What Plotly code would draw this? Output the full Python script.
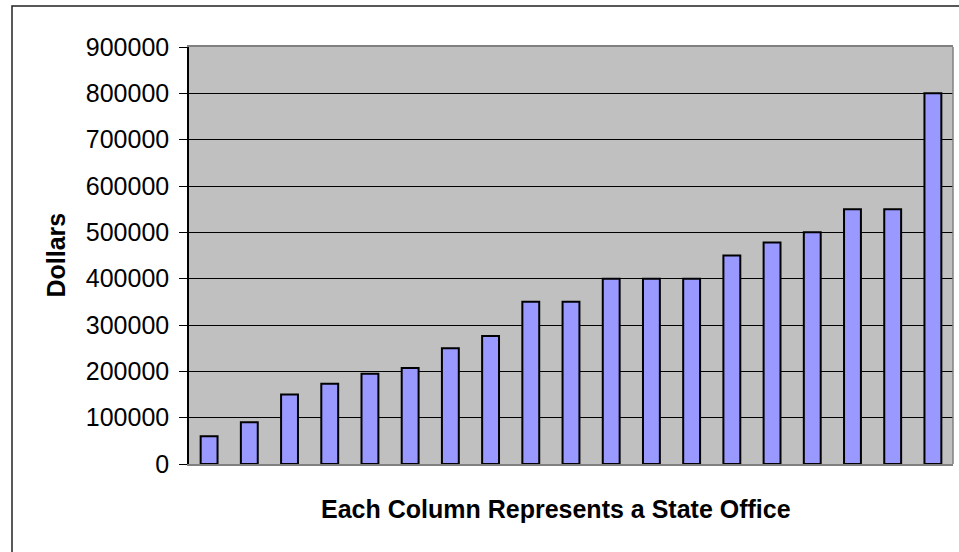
import plotly.graph_objects as go

# Funding per state office, sorted ascending
offices = [f"Office {i}" for i in range(1, 20)]
dollars = [60000, 90000, 150000, 173000, 195000, 207000, 250000, 276000,
           350000, 350000, 400000, 400000, 400000, 450000, 478000, 500000,
           550000, 550000, 800000]
y_ticks = list(range(0, 900001, 100000))

FONT = "Liberation Sans, Arial, sans-serif"

fig = go.Figure(
    go.Bar(
        x=offices,
        y=dollars,
        marker=dict(color="#9999FF", line=dict(color="#000000", width=2)),
        hoverinfo="y",
    )
)

W, H = 959, 552
L, R, T, B = 189, 6, 47, 88
pw, ph = W - L - R, H - T - B


def px_x(x):
    return (x - L) / pw


def px_y(y):
    return (H - B - y) / ph


fig.update_layout(
    width=W,
    height=H,
    margin=dict(l=L, r=R, t=T, b=B, pad=0),
    paper_bgcolor="white",
    plot_bgcolor="#C0C0C0",
    bargap=0.58,
    showlegend=False,
    font=dict(family=FONT, color="black"),
    xaxis=dict(
        showticklabels=False,
        ticks="",
        showgrid=False,
        showline=True,
        linecolor="#808080",
        linewidth=1.5,
        mirror=True,
        zeroline=False,
    ),
    yaxis=dict(
        range=[0, 900000],
        tickvals=y_ticks,
        ticktext=[str(v) for v in y_ticks],
        ticks="outside",
        ticklen=8,
        tickwidth=1,
        tickcolor="black",
        ticklabelstandoff=5,
        tickfont=dict(size=25, family=FONT, color="black"),
        showgrid=True,
        gridcolor="black",
        gridwidth=1,
        showline=True,
        linecolor="black",
        linewidth=1.5,
        zeroline=False,
    ),
    shapes=[
        # right edge of the plot frame
        dict(type="line", xref="paper", yref="paper", x0=1, x1=1, y0=0, y1=1,
             line=dict(color="#808080", width=1.5)),
        # outer chart border
        dict(type="rect", xref="paper", yref="paper",
             x0=px_x(12), x1=px_x(975), y0=px_y(570), y1=px_y(6),
             line=dict(color="#222222", width=1.5)),
    ],
    annotations=[
        dict(text="<b>Dollars</b>", xref="paper", yref="paper",
             x=px_x(55), y=px_y(255.5), textangle=-90, showarrow=False,
             xanchor="center", yanchor="middle",
             font=dict(size=25, family=FONT, color="black")),
        dict(text="<b>Each Column Represents a State Office</b>",
             xref="paper", yref="paper",
             x=px_x(556), y=px_y(509), showarrow=False,
             xanchor="center", yanchor="middle",
             font=dict(size=25, family=FONT, color="black")),
    ],
)

fig.write_html("out.html")
